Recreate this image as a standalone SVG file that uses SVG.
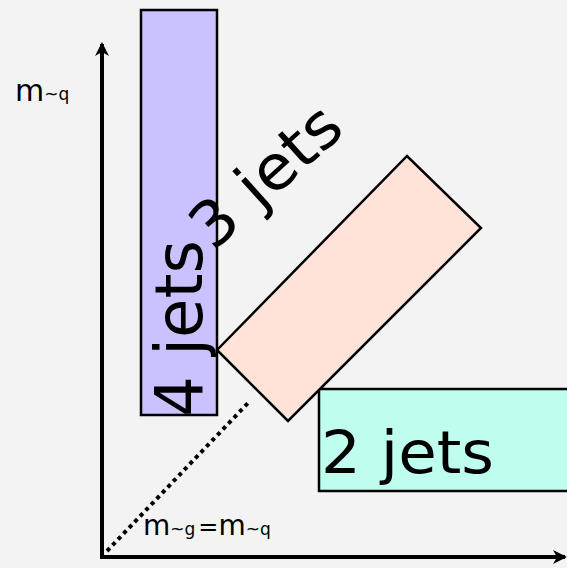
<svg xmlns="http://www.w3.org/2000/svg" width="567" height="568" viewBox="0 0 567 568">
  <style>
    .lbl { font-family: "DejaVu Sans", "Liberation Sans", sans-serif; fill: #000; }
    .box { stroke: #000; stroke-width: 2.5; }
  </style>
  <defs>
    <marker id="arr" viewBox="0 0 14 14" refX="12" refY="7" markerWidth="14" markerHeight="14" markerUnits="userSpaceOnUse" orient="auto">
      <path d="M0,0 L14,7 L0,14 L4,7 Z" fill="#000"/>
    </marker>
  </defs>
  <rect x="0" y="0" width="567" height="568" fill="#f3f3f3"/>

  <g id="region-4jets">
    <rect class="box" x="141" y="10" width="76" height="405" fill="#c9c2ff"/>
  </g>
  <g id="region-2jets">
    <rect class="box" x="319" y="389" width="260" height="102" fill="#bffdee"/>
  </g>
  <g id="region-3jets">
    <polygon class="box" points="217,350 407,156 481,228 288,421" fill="#ffe3d8"/>
  </g>

  <g id="connectors">
    <line x1="102" y1="557" x2="102" y2="44" stroke="#000" stroke-width="4" marker-end="url(#arr)"/>
    <line x1="100" y1="557" x2="565" y2="557" stroke="#000" stroke-width="4" marker-end="url(#arr)"/>
    <line x1="107" y1="551" x2="248" y2="403" stroke="#000" stroke-width="4" stroke-dasharray="4 4"/>
  </g>

  <g id="labels">
    <text class="lbl" transform="translate(202,417) rotate(-90)" font-size="66" textLength="177" lengthAdjust="spacingAndGlyphs">4 jets</text>
    <text class="lbl" transform="translate(213,252) rotate(-42)" font-size="62" textLength="180" lengthAdjust="spacingAndGlyphs">3 jets</text>
    <text class="lbl" x="321" y="473" font-size="59" textLength="173" lengthAdjust="spacingAndGlyphs">2 jets</text>
    <text class="lbl" x="15" y="101" font-size="30"><tspan>m</tspan><tspan font-size="17" dy="-1">~q</tspan></text>
    <text class="lbl" x="143" y="535" font-size="28"><tspan>m</tspan><tspan font-size="17">~g</tspan><tspan font-size="24" dx="3">=</tspan><tspan>m</tspan><tspan font-size="17">~q</tspan></text>
  </g>
</svg>
